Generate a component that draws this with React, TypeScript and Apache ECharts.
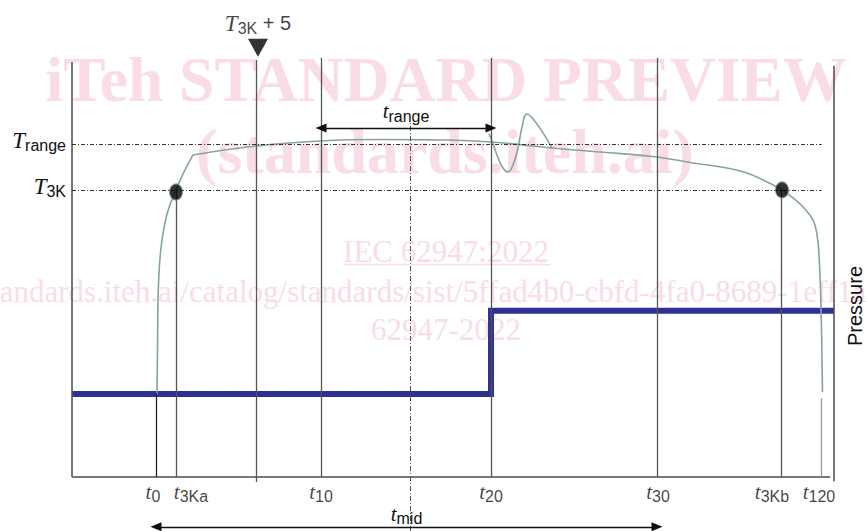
import React, { useEffect, useRef } from 'react';
import * as echarts from 'echarts';

// Temperature curve (time units 0..100, temperature units 0..100)
const riseX = [11.15, 11.22, 11.29, 11.48, 11.81, 12.34, 12.99, 13.65, 14.70, 15.88];
const riseY = [19.74, 30.57, 42.61, 51.04, 57.06, 62.35, 66.2, 69.09, 73.43, 77.52];
const plateauX = [15.88, 24.15, 32.55, 40.42, 48.29, 54.99, 62.99, 69.29, 76.77, 81.5, 85.96, 88.58, 90.68, 92.52, 93.18, 94.62, 95.93, 97.24, 97.77, 98.03, 98.23, 98.36, 98.49];
const plateauY = [77.52, 79.68, 80.89, 81.25, 81.13, 80.65, 79.2, 78.24, 77.04, 75.59, 74.39, 73.18, 71.5, 69.81, 69.09, 67.17, 65.0, 61.87, 58.26, 53.44, 45.0, 35.39, 20.46];
// Overshoot after pressure step
const wiggleX = [54.72, 55.12, 55.77, 56.56, 57.22, 57.87, 58.53, 59.06, 59.71, 60.5, 61.81, 62.99];
const wiggleY = [82.57, 80.89, 77.52, 74.39, 73.43, 75.11, 79.2, 84.26, 87.39, 86.19, 82.82, 79.2];
// Pressure step
const pressureX = [0, 54.99, 54.99, 100];
const pressureY = [20, 20, 40, 40];
// Levels
const T_RANGE = 80.17;
const T_3K = 69.09;
// Time marks
const t0 = 11.02, t3Ka = 13.65, tPlus5 = 24.15, t10 = 32.68, tMid = 44.36, t20 = 54.99, t30 = 76.77, t3Kb = 93.04, t120 = 98.29;
const tickKeys = ['0', '3Ka', '10', '20', '30', '3Kb', '120'];
const tickX = [t0, t3Ka, t10, t20, t30, t3Kb, t120];
const markerX = [t3Ka, 93.18];
const markerY = [68.6, 69.1];

const rich = {
  T: { fontFamily: 'Liberation Serif', fontStyle: 'italic', fontSize: 23, color: '#111' },
  t: { fontFamily: 'Liberation Serif', fontStyle: 'italic', fontSize: 21, color: '#111' },
  s: { fontFamily: 'Liberation Sans', fontSize: 16, color: '#111', padding: [10, 0, 0, 0] },
  n: { fontFamily: 'Liberation Sans', fontSize: 20, color: '#111', padding: [0, 0, 2, 0] },
};

function seg(x1: number, y1: number, x2: number, y2: number, style: any) {
  return [{ coord: [x1, y1], lineStyle: style }, { coord: [x2, y2] }];
}

export default function App() {
  const ref = useRef<HTMLDivElement>(null);
  useEffect(() => {
    if (!ref.current) return;
    const chart = echarts.init(ref.current, undefined, { renderer: 'svg' });
    const dark = { color: '#555', width: 1.3, type: 'solid' };
    const dashDot = { color: '#333', width: 1, type: [4, 2, 1, 2] };
    const tickShift = [-3, 15, 0, 0, 1, -9, -2];
    const wm = '#f9dce5';
    const curveStyle = { color: '#86a3a3', width: 1.6 };
    const option: any = {
      animation: false,
      grid: { left: 72, right: 32, top: 20, bottom: 0 },
      xAxis: { type: 'value', min: 0, max: 100, show: false },
      yAxis: { type: 'value', min: -13, max: 110, show: false },
      graphic: [
        { type: 'text', z: -10, x: 446, y: 79, style: { text: 'iTeh STANDARD PREVIEW', font: 'bold 63.5px "Liberation Serif"', fill: wm, align: 'center', verticalAlign: 'middle' } },
        { type: 'text', z: -10, x: 445, y: 151, style: { text: '(standards.iteh.ai)', font: 'bold 64px "Liberation Serif"', fill: wm, align: 'center', verticalAlign: 'middle' } },
        { type: 'text', z: -10, x: 446, y: 251.5, style: { text: 'IEC 62947:2022', font: '31px "Liberation Serif"', fill: wm, align: 'center', verticalAlign: 'middle' } },
        { type: 'line', z: -10, shape: { x1: 343, y1: 264.5, x2: 550, y2: 264.5 }, style: { stroke: wm, lineWidth: 1.5 } },
        { type: 'text', z: -10, x: -21, y: 291.5, style: { text: 'standards.iteh.ai/catalog/standards/sist/5ffad4b0-cbfd-4fa0-8689-1eff1a1c0b3d/iec-62947-2022', font: '31px "Liberation Serif"', fill: wm, align: 'left', verticalAlign: 'middle' } },
        { type: 'text', z: -10, x: 446, y: 329.5, style: { text: '62947-2022', font: '31px "Liberation Serif"', fill: wm, align: 'center', verticalAlign: 'middle' } },
        { type: 'text', z: 10, x: 855, y: 306, rotation: Math.PI / 2, style: { text: 'Pressure', font: '20px "Liberation Sans"', fill: '#111', align: 'center', verticalAlign: 'middle' } },
      ],
      series: [
        {
          type: 'line', z: 1, data: [], silent: true,
          markLine: {
            silent: true, symbol: ['none', 'none'], label: { show: false },
            data: [
              seg(0, 0, 0, 99.9, { color: '#555', width: 1.6, type: 'solid' }),
              seg(0, 0, 99.5, 0, { color: '#777', width: 2, type: 'solid' }),
              seg(100, -1, 100, 99, { color: '#555', width: 1.6, type: 'solid' }),
              seg(t0, 0, t0, 20.2, { color: '#222', width: 1.3, type: 'solid' }),
              seg(t3Ka, 0, t3Ka, T_3K, dark),
              seg(tPlus5, -1.2, tPlus5, 100.4, dark),
              seg(t10, 0, t10, 100.9, dark),
              seg(tMid, -13, tMid, 85.6, { color: '#555', width: 1, type: [5, 2, 1, 2] }),
              seg(t20, 0, t20, 100.9, dark),
              seg(t30, 0, t30, 100.9, dark),
              seg(t3Kb, 0, t3Kb, T_3K, dark),
              seg(t120, 0, t120, 19, { color: '#999', width: 1.3, type: 'solid' }),
              [
                { coord: [0, T_RANGE], lineStyle: dashDot, label: { show: true, position: 'start', distance: 6, offset: [0, -3], formatter: '{T|T}{s|range}', rich } },
                { coord: [98.4, T_RANGE] },
              ],
              [
                { coord: [0, T_3K], lineStyle: dashDot, label: { show: true, position: 'start', distance: 6, offset: [0, -3], formatter: '{T|T}{s|3K}', rich } },
                { coord: [98.4, T_3K] },
              ],
              [
                { coord: [t10, 84.0], symbol: 'triangle', symbolSize: [9, 11], lineStyle: { color: '#111', width: 1.3, type: 'solid' },
                  label: { show: true, position: 'middle', distance: 4, formatter: '{t|t}{s|range}', rich } },
                { coord: [t20, 84.0], symbol: 'triangle', symbolSize: [9, 11] },
              ],
              [
                { coord: [t0, -12], symbol: 'triangle', symbolSize: [9, 11], lineStyle: { color: '#111', width: 1.3, type: 'solid' },
                  label: { show: true, position: 'middle', distance: 0, formatter: '{t|t}{s|mid}', rich } },
                { coord: [t30, -12], symbol: 'triangle', symbolSize: [9, 11] },
              ],
            ],
          },
        },
        {
          name: 'Pressure', type: 'line', z: 3, showSymbol: false, silent: true,
          data: pressureX.map((x, i) => [x, pressureY[i]]),
          lineStyle: { color: '#2e3192', width: 6, cap: 'butt', join: 'miter' },
        },
        {
          name: 'Temperature rise', type: 'line', z: 4, showSymbol: false, silent: true, smooth: 0.3,
          data: riseX.map((x, i) => [x, riseY[i]]),
          lineStyle: curveStyle,
        },
        {
          name: 'Temperature', type: 'line', z: 4, showSymbol: false, silent: true, smooth: 0.45,
          data: plateauX.map((x, i) => [x, plateauY[i]]),
          lineStyle: curveStyle,
        },
        {
          name: 'Overshoot', type: 'line', z: 4, showSymbol: false, silent: true, smooth: 0.5,
          data: wiggleX.map((x, i) => [x, wiggleY[i]]),
          lineStyle: curveStyle,
        },
        {
          type: 'scatter', z: 5, silent: true,
          data: markerX.map((x, i) => [x, markerY[i]]),
          symbol: 'circle', symbolSize: [13, 16],
          itemStyle: { color: '#000', borderColor: '#7a9090', borderWidth: 1 },
        },
        {
          type: 'scatter', z: 5, silent: true, clip: false,
          data: [[24.41, 103.3]],
          symbol: 'triangle', symbolRotate: 180, symbolSize: [20, 18],
          itemStyle: { color: '#000' },
          label: { show: true, position: 'top', distance: 2, formatter: '{T|T}{s|3K}{n| + 5}', rich },
        },
        {
          type: 'scatter', z: 5, silent: true, clip: false,
          data: tickX.map((x, i) => ({ value: [x, -3.6], label: { offset: [tickShift[i], 0] } })),
          symbolSize: 0,
          label: {
            show: true, position: 'inside',
            formatter: (p: any) => `{t|t}{s|${tickKeys[p.dataIndex]}}`,
            rich,
          },
        },
      ],
    };
    chart.setOption(option);
    return () => chart.dispose();
  }, []);
  return <div ref={ref} style={{ position: 'absolute', left: 0, top: 0, width: 866, height: 531 }} />;
}
